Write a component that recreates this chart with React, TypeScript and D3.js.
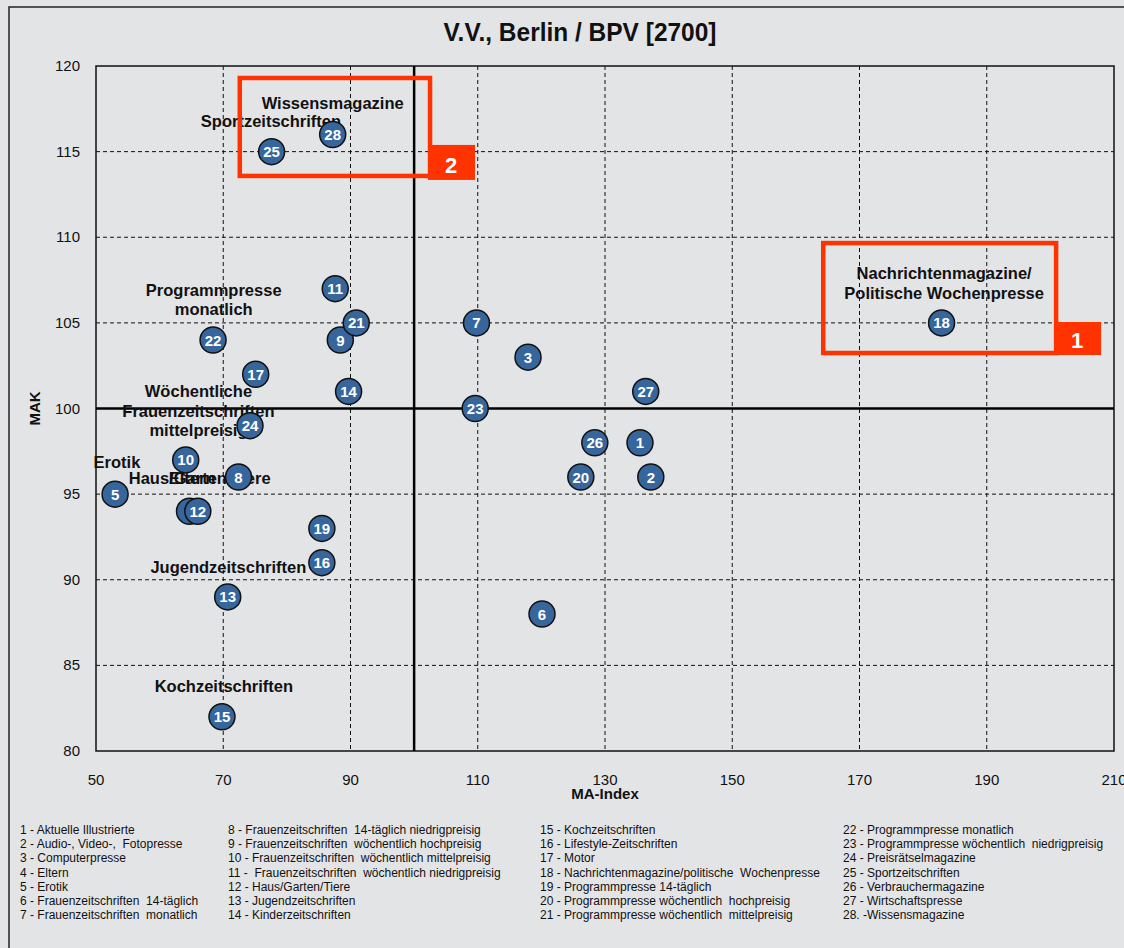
import React from "react";
import * as d3 from "d3";

const ids = [1,2,3,4,5,6,7,8,9,10,11,12,13,14,15,16,17,18,19,20,21,22,23,24,25,26,27,28];
const maIndex = [135.5,137.2,117.9,64.7,53,120.1,109.8,72.4,88.4,64.1,87.6,66,70.7,89.7,69.8,85.5,75.1,182.9,85.5,126.2,90.9,68.4,109.6,74.2,77.6,128.4,136.4,87.2];
const mak = [98,96,103,94,95,88,105,96,104,97,107,94,89,101,82,91,102,105,93,96,105,104,100,99,115,98,101,116];

const xTicks = [50,70,90,110,130,150,170,190,210];
const yTicks = [80,85,90,95,100,105,110,115,120];

const catLabels: { lines: string[]; x: number; y: number }[] = [
  { lines: ["Wissensmagazine"], x: 87.2, y: 116.5 + 1.0 },
  { lines: ["Sportzeitschriften"], x: 77.5, y: 116.44 },
  { lines: ["Programmpresse", "monatlich"], x: 68.5, y: 106.57 },
  { lines: ["Wöchentliche", "Frauenzeitschriften", "mittelpreisig"], x: 66.1, y: 100.67 },
  { lines: ["Erotik"], x: 53.3, y: 96.5 },
  { lines: ["Haus/Garten/Tiere"], x: 66.3, y: 95.6 },
  { lines: ["Eltern"], x: 65.1, y: 95.6 },
  { lines: ["Jugendzeitschriften"], x: 70.8, y: 90.4 },
  { lines: ["Kochzeitschriften"], x: 70.1, y: 83.45 },
  { lines: ["Nachrichtenmagazine/", "Politische Wochenpresse"], x: 183.3, y: 107.56 },
];

const legendCols = [
  ["1 - Aktuelle Illustrierte","2 - Audio-, Video-,  Fotopresse","3 - Computerpresse","4 - Eltern","5 - Erotik","6 - Frauenzeitschriften  14-täglich","7 - Frauenzeitschriften  monatlich"],
  ["8 - Frauenzeitschriften  14-täglich niedrigpreisig","9 - Frauenzeitschriften  wöchentlich hochpreisig","10 - Frauenzeitschriften  wöchentlich mittelpreisig","11 -  Frauenzeitschriften  wöchentlich niedrigpreisig","12 - Haus/Garten/Tiere","13 - Jugendzeitschriften","14 - Kinderzeitschriften"],
  ["15 - Kochzeitschriften","16 - Lifestyle-Zeitschriften","17 - Motor","18 - Nachrichtenmagazine/politische  Wochenpresse","19 - Programmpresse 14-täglich","20 - Programmpresse wöchentlich  hochpreisig","21 - Programmpresse wöchentlich  mittelpreisig"],
  ["22 - Programmpresse monatlich","23 - Programmpresse wöchentlich  niedrigpreisig","24 - Preisrätselmagazine","25 - Sportzeitschriften","26 - Verbrauchermagazine","27 - Wirtschaftspresse","28. -Wissensmagazine"],
];
const legendX = [20, 228, 540, 843];

const narrow = "'Liberation Sans Narrow', 'Arial Narrow', 'Liberation Sans', Arial, sans-serif";
const sans = "'Liberation Sans', Arial, Helvetica, sans-serif";

export default function App() {
  const W = 1124, H = 948;
  const x = d3.scaleLinear().domain([50, 210]).range([96, 1114]);
  const y = d3.scaleLinear().domain([80, 120]).range([751, 66]);
  const red = "#ff3300";
  const lh = 19.5;

  // highlight boxes in data coordinates
  const box1 = { x0: 164.3, x1: 200.9, y0: 103.24, y1: 109.66 };
  const box2 = { x0: 72.6, x1: 102.5, y0: 113.58, y1: 119.3 };

  return (
    <svg width={W} height={H} style={{ position: "absolute", left: 0, top: 0, display: "block" }}>
      <rect x={0} y={0} width={W} height={H} fill="#e3e4e6" />
      <rect x={9} y={7} width={W + 10} height={H + 10} fill="none" stroke="#222" strokeWidth={1.5} />
      <text x={580} y={41} textAnchor="middle" fontFamily={narrow} fontWeight="bold" fontSize={25} textLength={273} lengthAdjust="spacingAndGlyphs" fill="#111">V.V., Berlin / BPV [2700]</text>

      {/* grid */}
      {xTicks.slice(1, -1).map((t) => (
        <line key={"gx" + t} x1={x(t)} x2={x(t)} y1={y(120)} y2={y(80)} stroke="#111" strokeWidth={1} strokeDasharray="4,3" />
      ))}
      {yTicks.slice(1, -1).map((t) => (
        <line key={"gy" + t} x1={x(50)} x2={x(210)} y1={y(t)} y2={y(t)} stroke="#111" strokeWidth={1} strokeDasharray="4,3" />
      ))}
      <rect x={x(50)} y={y(120)} width={x(210) - x(50)} height={y(80) - y(120)} fill="none" stroke="#111" strokeWidth={1.5} />
      <line x1={x(100)} x2={x(100)} y1={y(120)} y2={y(80)} stroke="#000" strokeWidth={2.5} />
      <line x1={x(50)} x2={x(210)} y1={y(100)} y2={y(100)} stroke="#000" strokeWidth={2.5} />

      {/* axes labels */}
      {yTicks.map((t) => (
        <text key={"ty" + t} x={80} y={y(t) + 5} textAnchor="end" fontFamily={narrow} fontSize={15} fill="#111">{t}</text>
      ))}
      {xTicks.map((t) => (
        <text key={"tx" + t} x={x(t)} y={785} textAnchor="middle" fontFamily={narrow} fontSize={15} fill="#111">{t}</text>
      ))}
      <text x={x(130)} y={799} textAnchor="middle" fontFamily={narrow} fontWeight="bold" fontSize={15} fill="#111">MA-Index</text>
      <text transform={`translate(40, ${y(100)}) rotate(-90)`} textAnchor="middle" fontFamily={narrow} fontWeight="bold" fontSize={15} fill="#111">MAK</text>

      {/* category labels */}
      {catLabels.map((c, i) => (
        <text key={"c" + i} textAnchor="middle" fontFamily={sans} fontWeight="bold" fontSize={16.5} fill="#111">
          {c.lines.map((l, j) => (
            <tspan key={j} x={x(c.x)} y={y(c.y) + j * lh}>{l}</tspan>
          ))}
        </text>
      ))}

      {/* highlight boxes */}
      <rect x={x(box1.x0)} y={y(box1.y1)} width={x(box1.x1) - x(box1.x0)} height={y(box1.y0) - y(box1.y1)} fill="none" stroke={red} strokeWidth={4.5} />
      <rect x={x(box1.x1) - 2} y={y(box1.y0) - 31} width={47} height={33} fill={red} />
      <text x={x(box1.x1) + 21} y={y(box1.y0) - 5} textAnchor="middle" fontFamily={sans} fontWeight="bold" fontSize={22} fill="#fff">1</text>
      <rect x={x(box2.x0)} y={y(box2.y1)} width={x(box2.x1) - x(box2.x0)} height={y(box2.y0) - y(box2.y1)} fill="none" stroke={red} strokeWidth={4.5} />
      <rect x={x(box2.x1) - 2} y={y(box2.y0) - 31} width={47} height={35} fill={red} />
      <text x={x(box2.x1) + 21} y={y(box2.y0) - 3} textAnchor="middle" fontFamily={sans} fontWeight="bold" fontSize={22} fill="#fff">2</text>

      {/* bubbles */}
      {ids.map((id, i) => (
        <g key={"b" + id} transform={`translate(${x(maIndex[i])}, ${y(mak[i])})`}>
          <circle r={13} fill="#36669c" stroke="#111" strokeWidth={1.5} />
          <text y={5.5} textAnchor="middle" fontFamily={sans} fontWeight="bold" fontSize={15} fill="#fff">{id}</text>
        </g>
      ))}

      {/* legend */}
      {legendCols.map((col, ci) =>
        col.map((t, ri) => (
          <text key={"l" + ci + "-" + ri} x={legendX[ci]} y={834 + ri * 14.2} fontFamily={sans} fontSize={12} fill="#111" style={{ whiteSpace: "pre" }}>{t}</text>
        ))
      )}
    </svg>
  );
}
